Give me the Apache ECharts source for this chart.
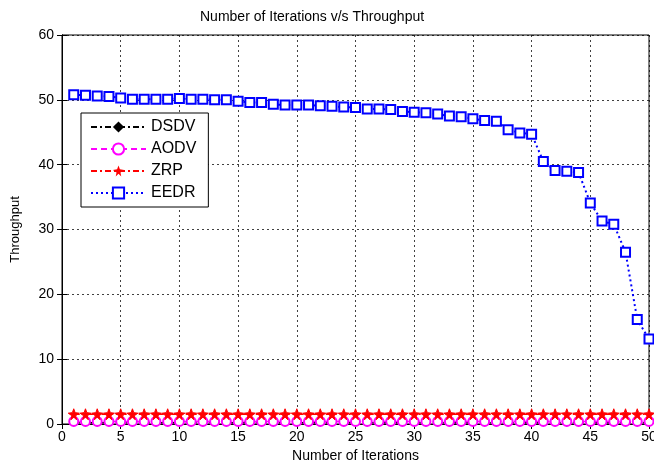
<!DOCTYPE html>
<html>
<head>
<meta charset="utf-8">
<script src="https://cdn.jsdelivr.net/npm/echarts@6/dist/echarts.min.js"></script>
<style>html,body{margin:0;padding:0;background:#fff;}#c{width:654px;height:469px;}</style>
</head>
<body>
<div id="c"></div>
<script>
const iterations = [1,2,3,4,5,6,7,8,9,10,11,12,13,14,15,16,17,18,19,20,21,22,23,24,25,26,27,28,29,30,31,32,33,34,35,36,37,38,39,40,41,42,43,44,45,46,47,48,49,50];
const dsdv = [0.2,0.2,0.2,0.2,0.2,0.2,0.2,0.2,0.2,0.2,0.2,0.2,0.2,0.2,0.2,0.2,0.2,0.2,0.2,0.2,0.2,0.2,0.2,0.2,0.2,0.2,0.2,0.2,0.2,0.2,0.2,0.2,0.2,0.2,0.2,0.2,0.2,0.2,0.2,0.2,0.2,0.2,0.2,0.2,0.2,0.2,0.2,0.2,0.2,0.2];
const aodv = [0.4,0.4,0.4,0.4,0.4,0.4,0.4,0.4,0.4,0.4,0.4,0.4,0.4,0.4,0.4,0.4,0.4,0.4,0.4,0.4,0.4,0.4,0.4,0.4,0.4,0.4,0.4,0.4,0.4,0.4,0.4,0.4,0.4,0.4,0.4,0.4,0.4,0.4,0.4,0.4,0.4,0.4,0.4,0.4,0.4,0.4,0.4,0.4,0.4,0.4];
const zrp = [1.5,1.5,1.5,1.5,1.5,1.5,1.5,1.5,1.5,1.5,1.5,1.5,1.5,1.5,1.5,1.5,1.5,1.5,1.5,1.5,1.5,1.5,1.5,1.5,1.5,1.5,1.5,1.5,1.5,1.5,1.5,1.5,1.5,1.5,1.5,1.5,1.5,1.5,1.5,1.5,1.5,1.5,1.5,1.5,1.5,1.5,1.5,1.5,1.5,1.5];
const eedr = [50.8,50.7,50.6,50.5,50.3,50.1,50.1,50.1,50.1,50.2,50.1,50.1,50.0,50.0,49.8,49.6,49.6,49.3,49.2,49.2,49.2,49.1,49.0,48.9,48.8,48.6,48.6,48.5,48.2,48.1,48.0,47.8,47.5,47.4,47.1,46.8,46.7,45.4,44.9,44.7,40.5,39.1,39.0,38.8,34.1,31.3,30.8,26.5,16.1,13.1];
const xTicks = {min:0, max:50, interval:5};
const yTicks = {min:0, max:60, interval:10};

const pairs = arr => iterations.map((x,i)=>[x, arr[i]]);
const font = 'Liberation Sans, Arial, sans-serif';
const starPath = 'path://M0,-10 L2.5,-3 L10,-2 L3.5,2.5 L5,10 L0,5 L-5,10 L-3.5,2.5 L-10,-2 L-2.5,-3 Z';

const chart = echarts.init(document.getElementById('c'), null, {renderer:'canvas'});
const gridLine = {show:true, lineStyle:{color:'#000', type:[2,3], width:1, opacity:0.75}};
chart.setOption({
  animation:false,
  backgroundColor:'#fff',
  title:{text:'Number of Iterations v/s Throughput', left:195, top:5,
    textStyle:{fontFamily:font, fontSize:14, fontWeight:'normal', color:'#000'}},
  legend:{
    orient:'vertical', left:81, top:113, backgroundColor:'#fff',
    borderColor:'#000', borderWidth:1, padding:[6,12,6,9], itemGap:6,
    itemWidth:55, itemHeight:14,
    textStyle:{fontFamily:font, fontSize:16, color:'#000'},
    data:['DSDV','AODV','ZRP','EEDR']
  },
  grid:{left:62, right:5, top:35, bottom:45, show:true, borderColor:'#000', borderWidth:1, backgroundColor:'#fff', outerBoundsMode:'none'},
  xAxis:[{
    type:'value', min:xTicks.min, max:xTicks.max, interval:xTicks.interval,
    name:'Number of Iterations', nameLocation:'middle', nameGap:24,
    nameTextStyle:{fontFamily:font, fontSize:14, color:'#000'},
    axisLine:{show:true, onZero:false, lineStyle:{color:'#000'}},
    axisTick:{show:true, inside:true, length:5, lineStyle:{color:'#000'}},
    axisLabel:{fontFamily:font, fontSize:14, color:'#000', margin:6},
    splitLine:gridLine
  },{
    type:'value', position:'top', min:xTicks.min, max:xTicks.max, interval:xTicks.interval,
    axisLine:{show:true, lineStyle:{color:'#000'}},
    axisTick:{show:true, inside:true, length:5, lineStyle:{color:'#000'}},
    axisLabel:{show:false}, splitLine:{show:false}
  }],
  yAxis:[{
    type:'value', min:yTicks.min, max:yTicks.max, interval:yTicks.interval,
    name:'Throughput', nameLocation:'middle', nameGap:40,
    nameTextStyle:{fontFamily:font, fontSize:13, color:'#000'},
    axisLine:{show:true, lineStyle:{color:'#000'}},
    axisTick:{show:true, inside:true, length:5, lineStyle:{color:'#000'}},
    axisLabel:{fontFamily:font, fontSize:14, color:'#000', margin:8},
    splitLine:gridLine
  },{
    type:'value', position:'right', min:yTicks.min, max:yTicks.max, interval:yTicks.interval,
    axisLine:{show:true, lineStyle:{color:'#000'}},
    axisTick:{show:true, inside:true, length:5, lineStyle:{color:'#000'}},
    axisLabel:{show:false}, splitLine:{show:false}
  }],
  series:[
    {name:'DSDV', type:'line', data:pairs(dsdv), color:'#000',
      symbol:'diamond', symbolSize:7, showAllSymbol:true,
      lineStyle:{color:'#000', width:1.5, type:[6,3,2,3]},
      itemStyle:{color:'#000', borderColor:'#000'}},
    {name:'AODV', type:'line', data:pairs(aodv), color:'#ff00ff',
      symbol:'emptyCircle', symbolSize:9, showAllSymbol:true,
      lineStyle:{color:'#ff00ff', width:1.5, type:[6,4]},
      itemStyle:{color:'#ff00ff', borderColor:'#ff00ff', borderWidth:2}},
    {name:'ZRP', type:'line', data:pairs(zrp), color:'#ff0000',
      symbol:starPath, symbolSize:11, showAllSymbol:true,
      lineStyle:{color:'#ff0000', width:1.5, type:[6,3,2,3]},
      itemStyle:{color:'#ff0000', borderColor:'#ff0000'}},
    {name:'EEDR', type:'line', data:pairs(eedr), color:'#0000ff',
      symbol:'emptyRect', symbolSize:9, showAllSymbol:true,
      lineStyle:{color:'#0000ff', width:2, type:[2,3]},
      itemStyle:{color:'#0000ff', borderColor:'#0000ff', borderWidth:2.5}}
  ]
});
</script>
</body>
</html>
